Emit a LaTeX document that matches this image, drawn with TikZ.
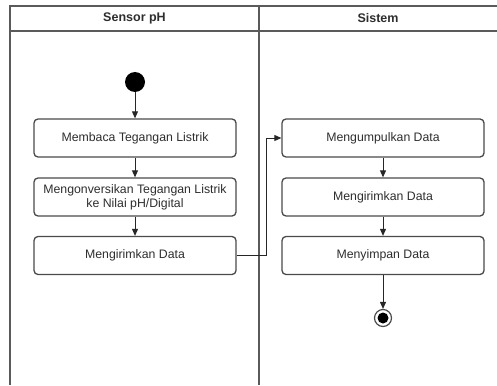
\documentclass[tikz,border=0pt]{standalone}
\usepackage{fontspec}
\setmainfont{Liberation Sans}
\usetikzlibrary{arrows.meta}
\definecolor{linegray}{HTML}{4A4A4A}
\definecolor{framegray}{HTML}{5A5A5A}
\definecolor{txt}{HTML}{2E2E2E}
\tikzset{
  action/.style={draw=linegray, line width=1.3pt, rounded corners=4pt,
    minimum width=202pt, minimum height=38pt, align=center,
    text=txt, font=\fontsize{12.3}{14}\selectfont, inner sep=0pt},
  flow/.style={draw=black!85, line width=0.9pt, -{Triangle[length=7pt,width=6pt]}},
  frame/.style={draw=framegray, line width=1.3pt},
  header/.style={text=txt, font=\fontsize{12.5}{14}\selectfont\bfseries}
}
\begin{document}
\begin{tikzpicture}[x=1pt,y=-1pt]
  \useasboundingbox (0,0) rectangle (497,385);
  \fill[white] (0,0) rectangle (497,385);

  % swimlane frame
  \draw[frame] (10,385) -- (10,6) -- (497,6);
  \draw[frame] (10,31) -- (497,31);
  \draw[frame] (259,6) -- (259,385);
  \node[header] (laneA) at (134.5,18.5) {Sensor pH};
  \node[header] (laneB) at (378,18.5) {Sistem};

  % sensor lane
  \node[circle, fill=black, inner sep=0pt, minimum size=20pt] (start) at (135,82) {};
  \node[action] (read) at (135,138) {Membaca Tegangan Listrik};
  \node[action] (conv) at (135,197) {Mengonversikan Tegangan Listrik\\ke Nilai pH/Digital};
  \node[action] (sendA) at (135,255.5) {Mengirimkan Data};

  % system lane
  \node[action] (collect) at (383,138) {Mengumpulkan Data};
  \node[action] (sendB) at (383,197) {Mengirimkan Data};
  \node[action] (store) at (383,255.5) {Menyimpan Data};
  \node[circle, draw=black!70, line width=1.2pt, inner sep=0pt, minimum size=17pt] (stop) at (383,318) {};
  \fill[black] (stop.center) circle (5.5pt);

  % control flow
  \draw[flow] (start) -- (read);
  \draw[flow] (read) -- (conv);
  \draw[flow] (conv) -- (sendA);
  \draw[flow] (sendA.east) -- (266,255.5) -- (266,138) -- (collect.west);
  \draw[flow] (collect) -- (sendB);
  \draw[flow] (sendB) -- (store);
  \draw[flow] (store) -- (stop);
\end{tikzpicture}
\end{document}
